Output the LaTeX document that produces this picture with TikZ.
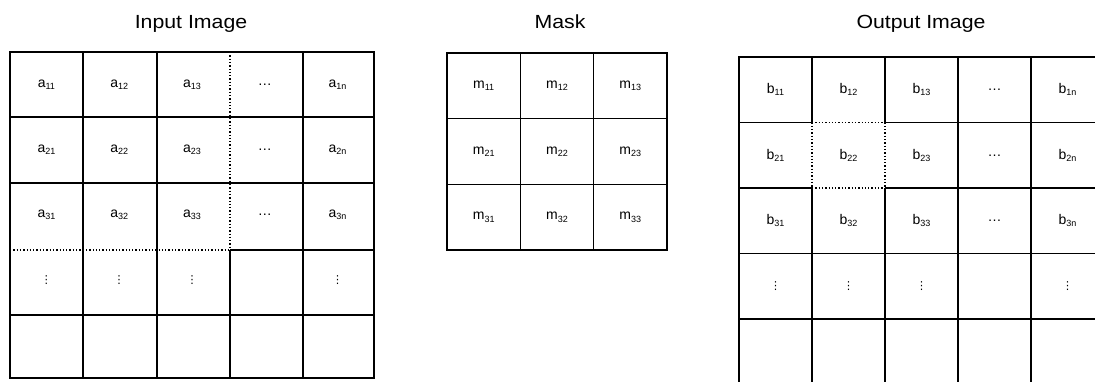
\documentclass[tikz,border=0pt]{standalone}
\usepackage{fontspec}
\setmainfont{Liberation Sans}
\newfontfamily\titlefont[FakeStretch=1.12]{Liberation Sans}
\newfontfamily\dotsfont{DejaVu Sans}
\newcommand\cellsub[1]{\raisebox{-0.3ex}{\fontsize{9}{10}\selectfont #1}}
\newcommand\ce[2]{#1\cellsub{#2}}
\newcommand\vd{{\dotsfont\fontsize{11}{12}\selectfont ⋮}}
\begin{document}
\begin{tikzpicture}[x=1pt,y=-1pt,
  gridline/.style={line width=1.4pt},
  border/.style={line width=2.2pt},
  winline/.style={line width=1.3pt, dotted},
  titletext/.style={font=\titlefont\fontsize{19}{20}\selectfont, anchor=base, inner sep=0pt},
  celltext/.style={font=\fontsize{14}{15}\selectfont, inner sep=0pt}]
\clip (0,0) rectangle (1095,381);
\fill[white] (0,0) rectangle (1095,381);

% ---------- titles ----------
\node[titletext] (tin)  at (191,28) {Input Image};
\node[titletext] (tmask) at (560,28) {Mask};
\node[titletext] (tout) at (921,28) {Output Image};

% ---------- input grid ----------
\draw[gridline] (10,117) -- (374,117);
\draw[gridline] (10,183) -- (374,183);
\draw[winline] (10,250) -- (230,250);
\draw[gridline] (230,250) -- (374,250);
\draw[gridline] (10,315) -- (374,315);
\draw[gridline] (83,52) -- (83,378);
\draw[gridline] (157,52) -- (157,378);
\draw[winline] (230,52) -- (230,250);
\draw[gridline] (230,250) -- (230,378);
\draw[gridline] (303,52) -- (303,378);
\draw[border] (10,52) rectangle (374,378);

\node[celltext] (a11) at (46.4,84.6) {\ce{a}{11}};
\node[celltext] (a12) at (119.2,84.6) {\ce{a}{12}};
\node[celltext] (a13) at (192,84.6) {\ce{a}{13}};
\node[celltext] (a14) at (264.8,84.6) {…};
\node[celltext] (a1n) at (337.6,84.6) {\ce{a}{1n}};
\node[celltext] (a21) at (46.4,149.8) {\ce{a}{21}};
\node[celltext] (a22) at (119.2,149.8) {\ce{a}{22}};
\node[celltext] (a23) at (192,149.8) {\ce{a}{23}};
\node[celltext] (a24) at (264.8,149.8) {…};
\node[celltext] (a2n) at (337.6,149.8) {\ce{a}{2n}};
\node[celltext] (a31) at (46.4,215) {\ce{a}{31}};
\node[celltext] (a32) at (119.2,215) {\ce{a}{32}};
\node[celltext] (a33) at (192,215) {\ce{a}{33}};
\node[celltext] (a34) at (264.8,215) {…};
\node[celltext] (a3n) at (337.6,215) {\ce{a}{3n}};
\node[celltext] (a41) at (46.4,280.2) {\vd};
\node[celltext] (a42) at (119.2,280.2) {\vd};
\node[celltext] (a43) at (192,280.2) {\vd};
\node[celltext] (a4n) at (337.6,280.2) {\vd};

% ---------- mask ----------
\draw[gridline] (447,118.7) -- (667,118.7);
\draw[gridline] (447,184.3) -- (667,184.3);
\draw[gridline] (520.3,53) -- (520.3,250);
\draw[gridline] (593.7,53) -- (593.7,250);
\draw[border] (447,53) rectangle (667,250);

\node[celltext] (m11) at (483.7,85.8) {\ce{m}{11}};
\node[celltext] (m12) at (557,85.8) {\ce{m}{12}};
\node[celltext] (m13) at (630.3,85.8) {\ce{m}{13}};
\node[celltext] (m21) at (483.7,151.5) {\ce{m}{21}};
\node[celltext] (m22) at (557,151.5) {\ce{m}{22}};
\node[celltext] (m23) at (630.3,151.5) {\ce{m}{23}};
\node[celltext] (m31) at (483.7,217.2) {\ce{m}{31}};
\node[celltext] (m32) at (557,217.2) {\ce{m}{32}};
\node[celltext] (m33) at (630.3,217.2) {\ce{m}{33}};

% ---------- output grid ----------
\draw[gridline] (739,122.5) -- (812,122.5);
\draw[winline] (812,122.5) -- (885,122.5);
\draw[gridline] (885,122.5) -- (1100,122.5);
\draw[gridline] (739,188) -- (812,188);
\draw[winline] (812,188) -- (885,188);
\draw[gridline] (885,188) -- (1100,188);
\draw[gridline] (739,253.5) -- (1100,253.5);
\draw[gridline] (739,319) -- (1100,319);
\draw[gridline] (812,57) -- (812,122.5);
\draw[winline] (812,122.5) -- (812,188);
\draw[gridline] (812,188) -- (812,390);
\draw[gridline] (885,57) -- (885,122.5);
\draw[winline] (885,122.5) -- (885,188);
\draw[gridline] (885,188) -- (885,390);
\draw[gridline] (958,57) -- (958,390);
\draw[gridline] (1031,57) -- (1031,390);
\draw[border] (739,390) -- (739,57) -- (1100,57);

\node[celltext] (b11) at (775.5,89.75) {\ce{b}{11}};
\node[celltext] (b12) at (848.5,89.75) {\ce{b}{12}};
\node[celltext] (b13) at (921.5,89.75) {\ce{b}{13}};
\node[celltext] (b14) at (994.5,89.75) {…};
\node[celltext] (b1n) at (1067.5,89.75) {\ce{b}{1n}};
\node[celltext] (b21) at (775.5,155.25) {\ce{b}{21}};
\node[celltext] (b22) at (848.5,155.25) {\ce{b}{22}};
\node[celltext] (b23) at (921.5,155.25) {\ce{b}{23}};
\node[celltext] (b24) at (994.5,155.25) {…};
\node[celltext] (b2n) at (1067.5,155.25) {\ce{b}{2n}};
\node[celltext] (b31) at (775.5,220.75) {\ce{b}{31}};
\node[celltext] (b32) at (848.5,220.75) {\ce{b}{32}};
\node[celltext] (b33) at (921.5,220.75) {\ce{b}{33}};
\node[celltext] (b34) at (994.5,220.75) {…};
\node[celltext] (b3n) at (1067.5,220.75) {\ce{b}{3n}};
\node[celltext] (b41) at (775.5,286.25) {\vd};
\node[celltext] (b42) at (848.5,286.25) {\vd};
\node[celltext] (b43) at (921.5,286.25) {\vd};
\node[celltext] (b4n) at (1067.5,286.25) {\vd};
\end{tikzpicture}
\end{document}
